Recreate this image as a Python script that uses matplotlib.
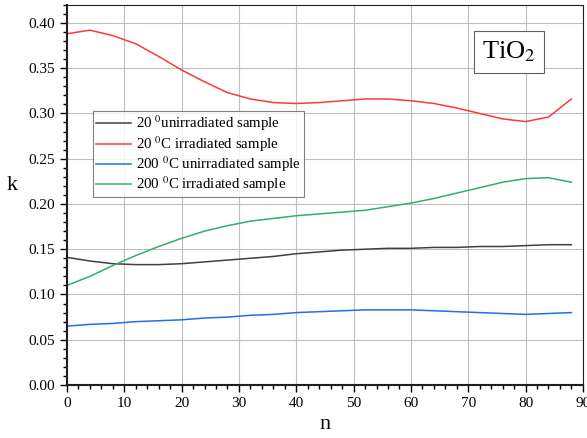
import numpy as np
import matplotlib
matplotlib.use("Agg")
import matplotlib.pyplot as plt
from matplotlib.ticker import MultipleLocator

plt.rcParams["font.family"] = ["Liberation Serif", "DejaVu Serif"]
plt.rcParams["mathtext.fontset"] = "stix"

# values
n = [0, 4, 8, 12, 16, 20, 24, 28, 32, 36, 40, 44, 48, 52, 56, 60,
     64, 68, 72, 76, 80, 84, 88]
k_20_unirr = [0.141, 0.137, 0.134, 0.133, 0.133, 0.134, 0.136, 0.138, 0.140,
              0.142, 0.145, 0.147, 0.149, 0.150, 0.151, 0.151, 0.152, 0.152,
              0.153, 0.153, 0.154, 0.155, 0.155]
k_20_irr = [0.388, 0.392, 0.386, 0.377, 0.363, 0.348, 0.335, 0.323, 0.316,
            0.312, 0.311, 0.312, 0.314, 0.316, 0.316, 0.314, 0.311, 0.306,
            0.300, 0.294, 0.291, 0.296, 0.316]
k_200_unirr = [0.065, 0.067, 0.068, 0.070, 0.071, 0.072, 0.074, 0.075, 0.077,
               0.078, 0.080, 0.081, 0.082, 0.083, 0.083, 0.083, 0.082, 0.081,
               0.080, 0.079, 0.078, 0.079, 0.080]
k_200_irr = [0.110, 0.120, 0.132, 0.143, 0.153, 0.162, 0.170, 0.176, 0.181,
             0.184, 0.187, 0.189, 0.191, 0.193, 0.197, 0.201, 0.206, 0.212,
             0.218, 0.224, 0.228, 0.229, 0.224]

labels = ["20 $^{0}$unirradiated sample",
          "20 $^{0}$C irradiated sample",
          "200 $^{0}$C unirradiated sample",
          "200 $^{0}$C irradiated sample"]
colors = ["#404040", "#ff3838", "#2070e0", "#30b070"]

fig = plt.figure(figsize=(5.87, 4.38), dpi=100)
ax = fig.add_axes([0.114, 0.121, 0.879, 0.868])

for vals, lab, c in zip([k_20_unirr, k_20_irr, k_200_unirr, k_200_irr], labels, colors):
    ax.plot(n, vals, color=c, lw=1.1, label=lab)

ax.set_xlim(0, 90)
ax.set_ylim(0, 0.42)
ax.xaxis.set_major_locator(MultipleLocator(10))
ax.xaxis.set_minor_locator(MultipleLocator(2))
ax.yaxis.set_major_locator(MultipleLocator(0.05))
ax.yaxis.set_minor_locator(MultipleLocator(0.01))
ax.yaxis.set_major_formatter(plt.FormatStrFormatter("%.2f"))
ax.grid(True, which="major", color="#c0c0c0", lw=0.8)
ax.set_axisbelow(True)
ax.tick_params(which="major", direction="out", length=5, width=1, labelsize=11)
ax.tick_params(which="minor", direction="out", length=3, width=1)
for s in ax.spines.values():
    s.set_color("#202020")
ax.spines["left"].set_linewidth(1.5)
ax.spines["bottom"].set_linewidth(1.5)

ax.set_xlabel("n", fontsize=16)
ax.set_ylabel("k", fontsize=16, rotation=0, labelpad=12)

leg = ax.legend(loc="upper left", bbox_to_anchor=(0.05, 0.721), fontsize=10.7,
                frameon=True, fancybox=False, edgecolor="#606060",
                handlelength=2.4, handletextpad=0.3, borderpad=0.2,
                labelspacing=0.05, borderaxespad=0)
leg.get_frame().set_linewidth(0.8)

ax.text(0.857, 0.876, "TiO$_2$", transform=ax.transAxes, fontsize=19,
        ha="center", va="center",
        bbox=dict(boxstyle="square,pad=0.32", fc="white", ec="#606060", lw=0.8))

fig.savefig("out.png", dpi=100)
